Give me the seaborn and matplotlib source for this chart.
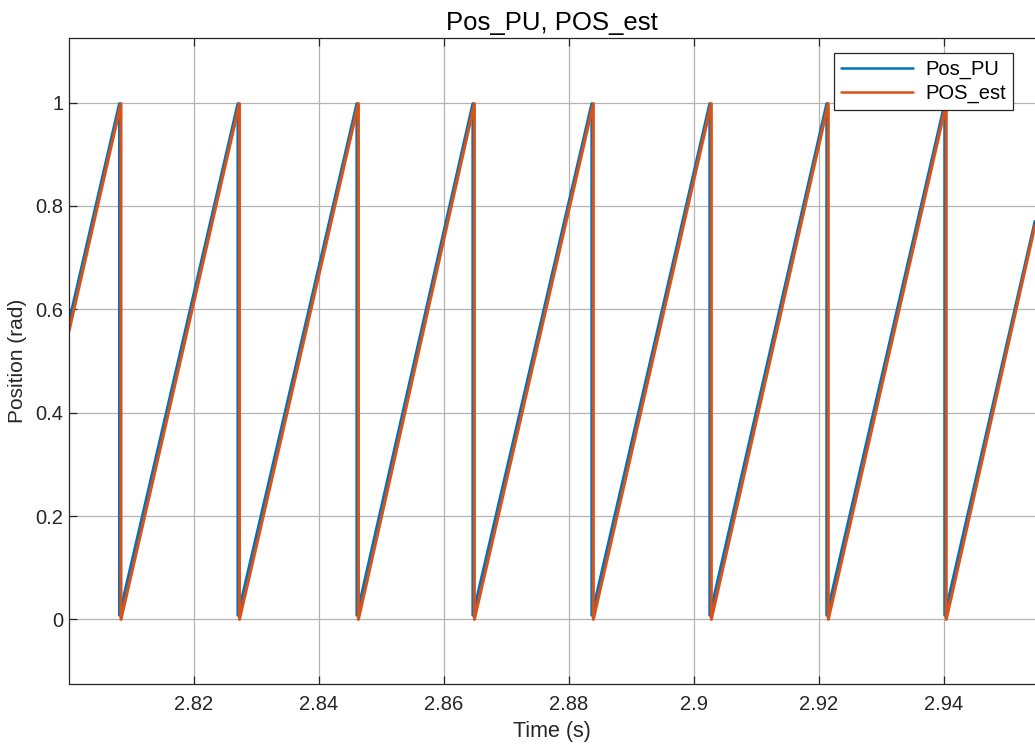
import matplotlib
matplotlib.use("Agg")
import matplotlib.pyplot as plt
import seaborn as sns
import numpy as np
import pandas as pd

# ---- data ----
pos_pu_t = [2.8000, 2.80808, 2.80808, 2.82704, 2.82704, 2.84608, 2.84608,
            2.86464, 2.86464, 2.88368, 2.88368, 2.90256, 2.90256, 2.92128,
            2.92128, 2.94016, 2.94016, 2.9546]
pos_pu_v = [0.575, 0.998, 0.008, 0.998, 0.008, 0.998, 0.008,
            0.998, 0.008, 0.998, 0.008, 0.998, 0.008, 0.998,
            0.008, 0.998, 0.008, 0.770]

pos_est_t = [2.8000, 2.80832, 2.80832, 2.82728, 2.82728, 2.84632, 2.84632,
             2.86488, 2.86488, 2.88392, 2.88392, 2.90280, 2.90280, 2.92152,
             2.92152, 2.94040, 2.94040, 2.9546]
pos_est_v = [0.558, 0.998, 0.000, 0.998, 0.000, 0.998, 0.000,
             0.998, 0.000, 0.998, 0.000, 0.998, 0.000, 0.998,
             0.000, 0.998, 0.000, 0.762]

x_ticks = [2.82, 2.84, 2.86, 2.88, 2.90, 2.92, 2.94]
x_tick_labels = ["2.82", "2.84", "2.86", "2.88", "2.9", "2.92", "2.94"]
y_ticks = [0, 0.2, 0.4, 0.6, 0.8, 1.0]
y_tick_labels = ["0", "0.2", "0.4", "0.6", "0.8", "1"]

title = "Pos_PU, POS_est"
x_label = "Time (s)"
y_label = "Position (rad)"
series_names = ["Pos_PU", "POS_est"]
colors = ["#0072BD", "#D95319"]

# ---- build a long table ----
df = pd.concat([
    pd.DataFrame({"t": pos_pu_t, "v": pos_pu_v, "series": series_names[0]}),
    pd.DataFrame({"t": pos_est_t, "v": pos_est_v, "series": series_names[1]}),
], ignore_index=True)

sns.set_theme(style="white")
plt.rcParams["font.family"] = ["Liberation Sans", "DejaVu Sans"]

fig = plt.figure(figsize=(10.35, 7.44), dpi=100)
ax = fig.add_axes([69 / 1035, 1 - 684 / 744, 1 - 69 / 1035, (684 - 38) / 744])

sns.lineplot(data=df, x="t", y="v", hue="series",
             palette=colors, sort=False, estimator=None, linewidth=2.2, ax=ax,
             legend=True)

ax.set_xlim(2.80, 2.9546)
ax.set_ylim(-0.125, 1.125)
ax.set_xticks(x_ticks)
ax.set_xticklabels(x_tick_labels)
ax.set_yticks(y_ticks)
ax.set_yticklabels(y_tick_labels)

ax.grid(True, color="#b4b4b4", linewidth=0.9)
ax.set_axisbelow(True)
ax.tick_params(axis="both", direction="in", length=6, width=0.9, color="#262626",
               labelsize=14.5, labelcolor="#262626", top=True, right=False,
               bottom=True, left=True)
ax.tick_params(axis="x", pad=8)
ax.tick_params(axis="y", pad=4)
for side in ["left", "bottom", "top"]:
    ax.spines[side].set_color("#262626")
    ax.spines[side].set_linewidth(0.9)
ax.spines["right"].set_visible(False)

ax.set_title(title, fontsize=18.5, color="black", pad=6)
ax.set_xlabel(x_label, fontsize=15.5, color="#262626", labelpad=5)
ax.set_ylabel(y_label, fontsize=15, color="#262626", labelpad=6)

handles, labels = ax.get_legend_handles_labels()
leg = ax.legend(handles, labels, loc="upper right",
                bbox_to_anchor=(1013 / 1035, 1 - 53 / 744), bbox_transform=fig.transFigure,
                fontsize=14.5, frameon=True, fancybox=False, framealpha=1,
                edgecolor="#262626", handlelength=3.6, borderpad=0.35,
                labelspacing=0.22, handletextpad=0.6, borderaxespad=0)
leg.get_frame().set_linewidth(0.9)
for line in leg.get_lines():
    line.set_linewidth(1.8)
for txt in leg.get_texts():
    txt.set_color("black")

fig.savefig("out.png", dpi=100)
